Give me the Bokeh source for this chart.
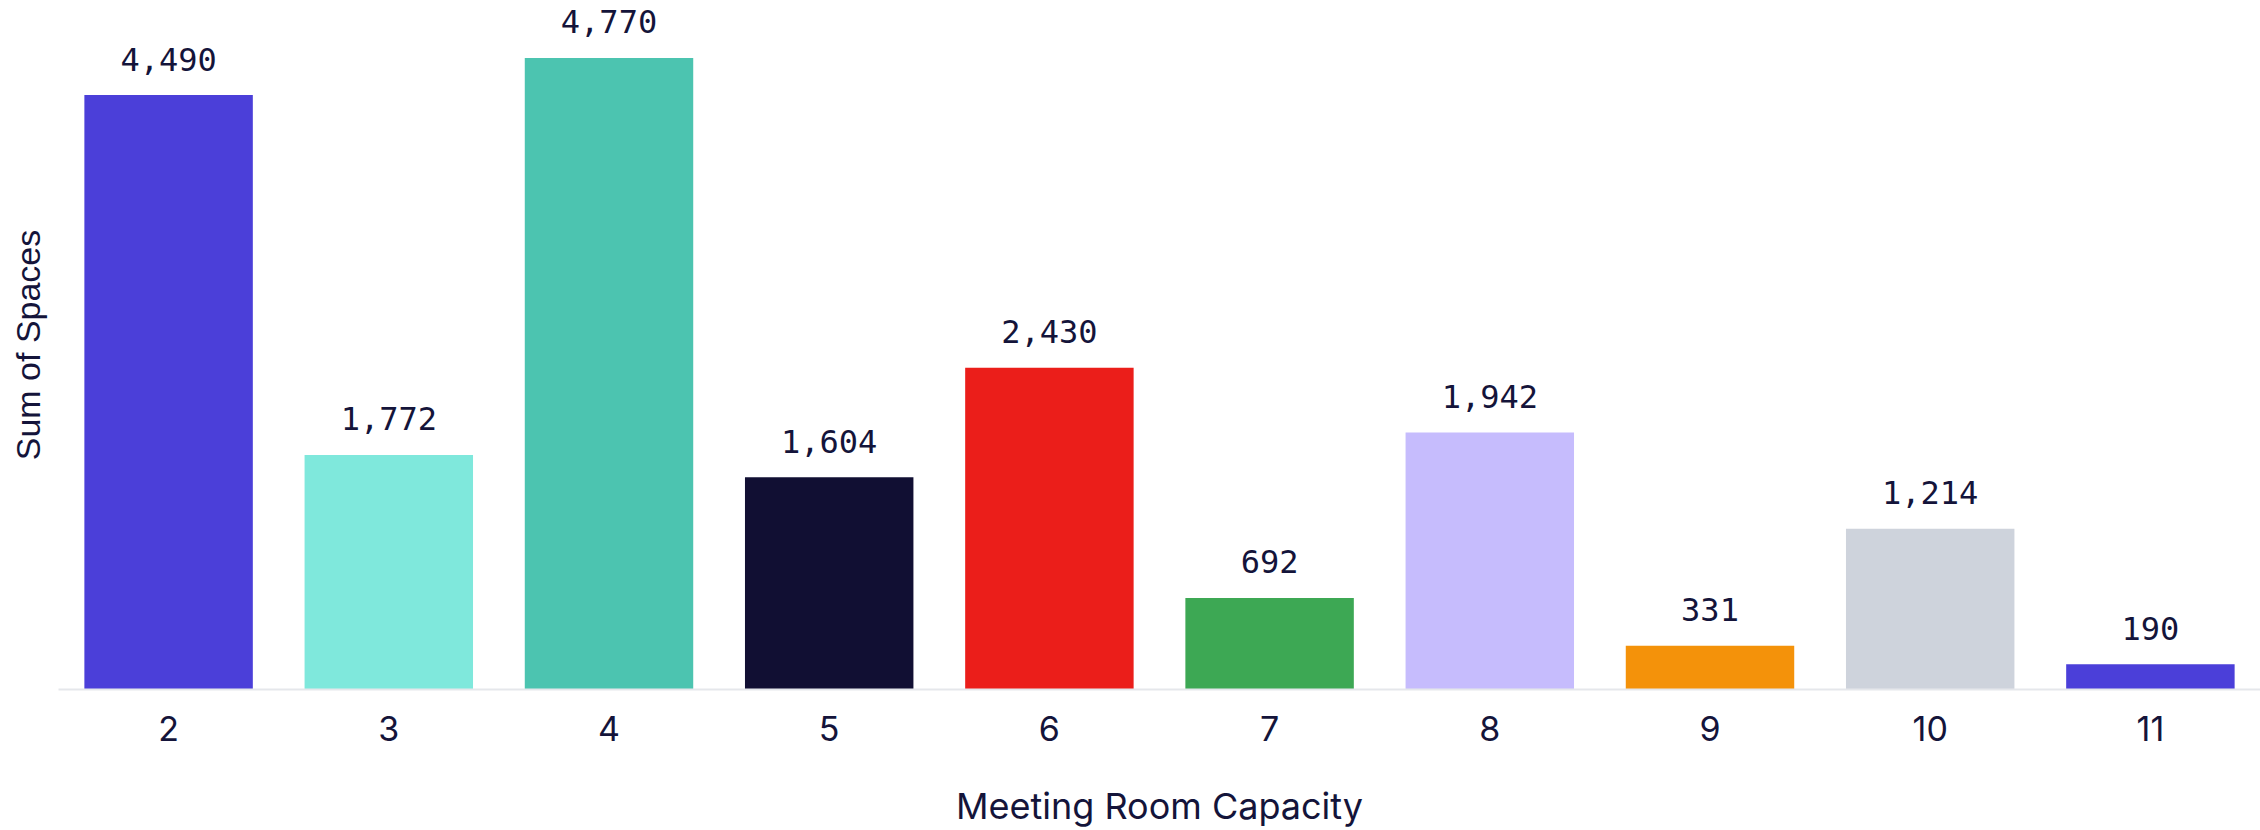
from bokeh.plotting import figure
from bokeh.models import ColumnDataSource, Range1d, FactorRange, FixedTicker
from bokeh.core.properties import value
from bokeh.embed import file_html
from bokeh.resources import INLINE

categories = ["2", "3", "4", "5", "6", "7", "8", "9", "10", "11"]
spaces = [4490, 1772, 4770, 1604, 2430, 692, 1942, 331, 1214, 190]
colors = ["#4b3fd9", "#7fe8dc", "#4cc4b0", "#110f33", "#eb1e1a",
          "#3da854", "#c6bcfd", "#f4920a", "#ced3dc", "#4b3fd9"]
labels = [f"{v:,}" for v in spaces]
x_title = "Meeting Room Capacity"
y_title = "Sum of Spaces"

TEXT = "#14143a"

src = ColumnDataSource(dict(cat=categories, val=spaces, color=colors, label=labels))

p = figure(width=2260, height=830, x_range=FactorRange(*categories),
           y_range=Range1d(0, 5204), output_backend="svg", toolbar_location=None,
           min_border_left=58, min_border_right=0, min_border_top=0, min_border_bottom=140)

p.vbar(x="cat", top="val", width=0.765, fill_color="color", line_color=None, source=src)
p.text(x="cat", y="val", text="label", source=src, y_offset=-36,
       text_align="center", text_baseline="alphabetic",
       text_font=value("DejaVu Sans Mono"), text_font_size="32px", text_color=TEXT)

p.outline_line_color = None
p.xgrid.grid_line_color = None
p.ygrid.grid_line_color = None

xa = p.xaxis[0]
xa.axis_line_color = "#e5e7eb"
xa.axis_line_width = 2
xa.major_tick_line_color = None
xa.minor_tick_line_color = None
xa.major_label_text_font = "Inter"
xa.major_label_text_font_size = "34px"
xa.major_label_text_color = TEXT
xa.major_label_standoff = 20
xa.axis_label = x_title
xa.axis_label_text_font = "Inter"
xa.axis_label_text_font_size = "36px"
xa.axis_label_text_font_style = "normal"
xa.axis_label_text_color = TEXT
xa.axis_label_standoff = 40

ya = p.yaxis[0]
ya.ticker = FixedTicker(ticks=[])
ya.axis_line_color = None
ya.major_tick_line_color = None
ya.minor_tick_line_color = None
ya.major_label_standoff = 0
ya.axis_label = y_title
ya.axis_label_text_font = "Liberation Sans"
ya.axis_label_text_font_size = "34px"
ya.axis_label_text_font_style = "normal"
ya.axis_label_text_color = TEXT
ya.axis_label_standoff = 12

open("out.html", "w").write(file_html(p, INLINE))
